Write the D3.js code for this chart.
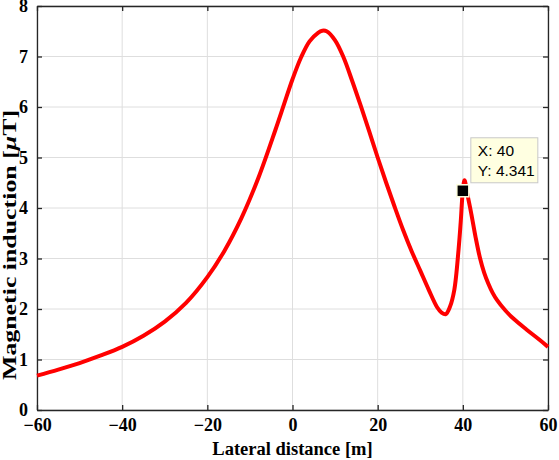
<!DOCTYPE html>
<meta charset="utf-8">
<script src="https://d3js.org/d3.v7.min.js"></script>
<style>
  body { margin: 0; background: #fff; }
  .tick text { font-family: "Liberation Serif", "Times New Roman", serif; font-weight: bold; font-size: 18px; fill: #000; }
</style>
<div id="my_dataviz"></div>
<script>

    // lateral distance [m] and magnetic induction [uT]
    const distance = [-60, -55, -50, -45, -40, -35, -30, -25, -20, -16, -12, -8, -4, -2, 0, 2, 4, 6, 7, 8, 10,
        12, 14, 16, 18, 20, 22, 24, 26, 28, 30, 32, 34, 35, 36, 37, 38, 39, 39.5, 40, 40.4,
        41, 42, 43, 44, 45, 46, 47, 48, 50, 52, 55, 58, 60];
    const induction = [0.68, 0.80, 0.93, 1.08, 1.25, 1.47, 1.75, 2.12, 2.63, 3.15, 3.80, 4.60, 5.55, 6.05, 6.55, 6.98, 7.30, 7.47, 7.51, 7.50, 7.32,
        6.98, 6.52, 6.03, 5.52, 5.00, 4.50, 4.02, 3.56, 3.14, 2.76, 2.38, 2.03, 1.93, 1.90, 2.05, 2.38, 3.18, 3.72, 4.341, 4.55,
        4.30, 3.88, 3.42, 3.02, 2.72, 2.50, 2.32, 2.18, 1.97, 1.80, 1.59, 1.39, 1.25];
    const xTicks = [-60, -40, -20, 0, 20, 40, 60];
    const yTicks = [0, 1, 2, 3, 4, 5, 6, 7, 8];
    const tip = {x: 40, y: 4.341};

    const data = distance.map((d, i) => ({x: d, y: induction[i]}));

    const margin = {top: 6, right: 11, bottom: 50, left: 37},
        width = 559 - margin.left - margin.right,
        height = 460 - margin.top - margin.bottom;

    const svg = d3.select("#my_dataviz")
        .append("svg")
        .attr("width", width + margin.left + margin.right)
        .attr("height", height + margin.top + margin.bottom)
        .append("g")
        .attr("transform", `translate(${margin.left},${margin.top})`);

    const x = d3.scaleLinear().domain([-60, 60]).range([0, width]);
    const y = d3.scaleLinear().domain([0, 8]).range([height, 0]);

    // grid
    svg.append("g")
        .selectAll("line")
        .data(xTicks)
        .join("line")
        .attr("x1", d => x(d)).attr("x2", d => x(d))
        .attr("y1", 0).attr("y2", height)
        .attr("stroke", "#dedede").attr("stroke-width", 1);
    svg.append("g")
        .selectAll("line")
        .data(yTicks)
        .join("line")
        .attr("x1", 0).attr("x2", width)
        .attr("y1", d => y(d)).attr("y2", d => y(d))
        .attr("stroke", "#dedede").attr("stroke-width", 1);

    // axes (ticks pointing inward, box all round)
    const axisColor = "#262626";
    const xb = svg.append("g")
        .attr("transform", `translate(0,${height})`)
        .call(d3.axisBottom(x).tickValues(xTicks).tickSizeInner(-5).tickSizeOuter(0).tickPadding(8));
    const yl = svg.append("g")
        .call(d3.axisLeft(y).tickValues(yTicks).tickSizeInner(-5).tickSizeOuter(0).tickPadding(9));
    const xt = svg.append("g")
        .call(d3.axisTop(x).tickValues(xTicks).tickSizeInner(-5).tickSizeOuter(0).tickFormat(""));
    const yr = svg.append("g")
        .attr("transform", `translate(${width},0)`)
        .call(d3.axisRight(y).tickValues(yTicks).tickSizeInner(-5).tickSizeOuter(0).tickFormat(""));
    [xb, yl, xt, yr].forEach(g => {
        g.selectAll("path, line").attr("stroke", axisColor).attr("stroke-width", 1.3);
    });

    // the curve
    svg.append("path")
        .datum(data)
        .attr("fill", "none")
        .attr("stroke", "#ff0000")
        .attr("stroke-width", 4)
        .attr("stroke-linejoin", "round")
        .attr("d", d3.line().x(d => x(d.x)).y(d => y(d.y)).curve(d3.curveCatmullRom.alpha(0.5)));

    // data tip
    svg.append("rect")
        .attr("x", x(tip.x) - 6).attr("y", y(tip.y) - 6)
        .attr("width", 12).attr("height", 12)
        .attr("fill", "#000").attr("stroke", "#ffffe1").attr("stroke-width", 1.5);
    const box = svg.append("g")
        .attr("transform", `translate(${x(tip.x) + 8},${y(tip.y) - 53})`);
    box.append("rect")
        .attr("width", 67).attr("height", 45)
        .attr("fill", "#ffffe1").attr("stroke", "#c8c8c8").attr("stroke-width", 1);
    box.selectAll("text")
        .data([`X: ${tip.x}`, `Y: ${tip.y}`])
        .join("text")
        .attr("x", 7).attr("y", (d, i) => 18.5 + i * 19.5)
        .style("font-family", "'Liberation Sans', Arial, sans-serif")
        .style("font-size", "15.5px")
        .attr("fill", "#000")
        .text(d => d);

    // axis labels
    svg.append("text")
        .attr("x", width / 2).attr("y", height + 45)
        .attr("text-anchor", "middle")
        .style("font-family", "'Liberation Serif', 'Times New Roman', serif")
        .style("font-weight", "bold").style("font-size", "18.5px")
        .text("Lateral distance [m]");
    const ylab = svg.append("text")
        .attr("transform", `translate(${-21},${374}) rotate(-90)`)
        .attr("text-anchor", "start")
        .attr("textLength", 270)
        .attr("lengthAdjust", "spacingAndGlyphs")
        .style("font-family", "'Liberation Serif', 'Times New Roman', serif")
        .style("font-weight", "bold").style("font-size", "19px");
    ylab.append("tspan").text("Magnetic induction [");
    ylab.append("tspan").style("font-style", "italic").text("\u03bc");
    ylab.append("tspan").text("T]");

</script>
